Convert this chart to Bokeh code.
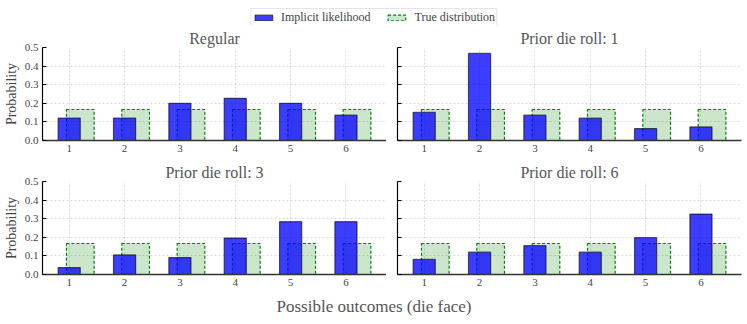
from bokeh.plotting import figure
from bokeh.layouts import column, row
from bokeh.models import (ColumnDataSource, FixedTicker, PrintfTickFormatter,
                          CustomJSTickFormatter, Legend, LegendItem, Label, Range1d)
from bokeh.transform import dodge
from bokeh.embed import file_html
from bokeh.resources import INLINE

# ---------------- data ----------------
faces = [1, 2, 3, 4, 5, 6]
true_dist = [1/6] * 6
regular = [0.121, 0.121, 0.200, 0.227, 0.200, 0.137]
prior_1 = [0.152, 0.468, 0.136, 0.120, 0.064, 0.073]
prior_3 = [0.037, 0.105, 0.091, 0.196, 0.284, 0.284]
prior_6 = [0.082, 0.120, 0.155, 0.120, 0.198, 0.325]
panel_titles = ["Regular", "Prior die roll: 1", "Prior die roll: 3", "Prior die roll: 6"]
y_ticks = [0.0, 0.1, 0.2, 0.3, 0.4, 0.5]
x_label = "Possible outcomes (die face)"
y_label = "Probability"
legend_labels = ["Implicit likelihood", "True distribution"]

FONT = "Liberation Serif"
TXT = "#444444"
BLUE_W, GREEN_W, GREEN_OFF = 0.4, 0.5, 0.2
lo = min(faces) - BLUE_W / 2
hi = max(faces) + GREEN_OFF + GREEN_W / 2
pad = 0.05 * (hi - lo)

FRAME_W, FRAME_H = 344, 93
TOTAL_W = 747

BLUE_STYLE = dict(fill_color="blue", fill_alpha=0.76, line_color="black",
                  line_alpha=0.6, line_width=1.2)
GREEN_STYLE = dict(fill_color="green", fill_alpha=0.2, line_color="green",
                   line_dash="3 2", line_width=1.2)


def make_panel(title, vals, left, top_border, bottom_border):
    src = ColumnDataSource(dict(x=faces, y=vals, t=true_dist))
    p = figure(frame_width=FRAME_W, frame_height=FRAME_H,
               x_range=Range1d(lo - pad, hi + pad), y_range=Range1d(0, 0.5),
               output_backend="svg", toolbar_location=None,
               min_border_left=42 if left else 11,
               min_border_right=0 if left else 6,
               min_border_top=top_border, min_border_bottom=bottom_border)
    p.outline_line_color = None
    p.title.text = title
    p.title.align = "center"
    p.title.text_font = FONT
    p.title.text_font_size = "16px"
    p.title.text_font_style = "normal"
    p.title.text_color = "#555555"
    p.title.standoff = 2
    # bars
    p.vbar(x=dodge("x", GREEN_OFF, range=p.x_range), top="t", width=GREEN_W,
           source=src, **GREEN_STYLE)
    p.vbar(x="x", top="y", width=BLUE_W, source=src, **BLUE_STYLE)
    # axes
    p.xaxis.ticker = FixedTicker(ticks=faces)
    p.yaxis.ticker = FixedTicker(ticks=y_ticks)
    for ax in (p.xaxis[0], p.yaxis[0]):
        ax.major_label_text_font = FONT
        ax.major_label_text_font_size = "11px"
        ax.major_label_text_color = TXT
        ax.minor_tick_line_color = None
        ax.major_tick_out = 0
    p.xaxis.major_tick_in = 0
    p.xaxis.major_label_standoff = 4
    p.xaxis.axis_line_color = "#333333"
    p.xaxis.axis_line_width = 1.6
    p.yaxis.axis_line_color = "black"
    p.yaxis.axis_line_width = 1.2
    p.yaxis.major_tick_in = 4
    p.yaxis.major_tick_line_color = "black"
    if left:
        p.yaxis.formatter = PrintfTickFormatter(format="%.1f")
        p.yaxis.major_label_standoff = 4
        p.yaxis.axis_label = y_label
        p.yaxis.axis_label_text_font = FONT
        p.yaxis.axis_label_text_font_size = "14px"
        p.yaxis.axis_label_text_font_style = "normal"
        p.yaxis.axis_label_text_color = TXT
        p.yaxis.axis_label_standoff = 3
    else:
        p.yaxis.formatter = CustomJSTickFormatter(code="return ''")
        p.yaxis.major_label_standoff = 0
    for g in (p.xgrid[0], p.ygrid[0]):
        g.grid_line_color = "#b0b0b0"
        g.grid_line_alpha = 0.6
        g.grid_line_dash = "2 2"
        g.grid_line_width = 0.8
    p.xgrid.ticker = FixedTicker(ticks=faces)
    p.ygrid.ticker = FixedTicker(ticks=y_ticks)
    return p


p1 = make_panel(panel_titles[0], regular, True, 22, 19)
p2 = make_panel(panel_titles[1], prior_1, False, 22, 19)
p3 = make_panel(panel_titles[2], prior_3, True, 22, 22)
p4 = make_panel(panel_titles[3], prior_6, False, 22, 22)

# legend strip: renderers use the real data but lie outside the visible y range
leg = figure(width=TOTAL_W, height=25, x_range=(0, 1), y_range=Range1d(1, 2),
             output_backend="svg", toolbar_location=None, min_border=0)
leg.axis.visible = False
leg.grid.visible = False
leg.outline_line_color = None
lsrc = ColumnDataSource(dict(x=faces, y=regular, t=true_dist))
r_blue = leg.vbar(x="x", top="y", width=BLUE_W, source=lsrc, **BLUE_STYLE)
r_green = leg.vbar(x="x", top="t", width=GREEN_W, source=lsrc, **GREEN_STYLE)
legend = Legend(items=[LegendItem(label=legend_labels[0], renderers=[r_blue]),
                       LegendItem(label=legend_labels[1], renderers=[r_green])],
                orientation="horizontal", location="top_center",
                label_text_font=FONT, label_text_font_size="12px", label_text_color=TXT,
                glyph_width=22, glyph_height=7, label_height=10, label_standoff=7,
                spacing=15, padding=1, margin=8,
                border_line_color="#cccccc", border_line_width=1,
                background_fill_color="white")
leg.add_layout(legend, "center")

# x label strip
lab = figure(width=TOTAL_W, height=20, x_range=(0, 1), y_range=(0, 1),
             output_backend="svg", toolbar_location=None, min_border=0)
lab.axis.visible = False
lab.grid.visible = False
lab.outline_line_color = None
lab.add_layout(Label(x=0.5, y=0.5, text=x_label, text_align="center",
                     text_baseline="middle", text_font=FONT,
                     text_font_size="17px", text_color="#555555"))

layout = column(leg, row(p1, p2), row(p3, p4), lab)
open("out.html", "w").write(file_html(layout, INLINE))
